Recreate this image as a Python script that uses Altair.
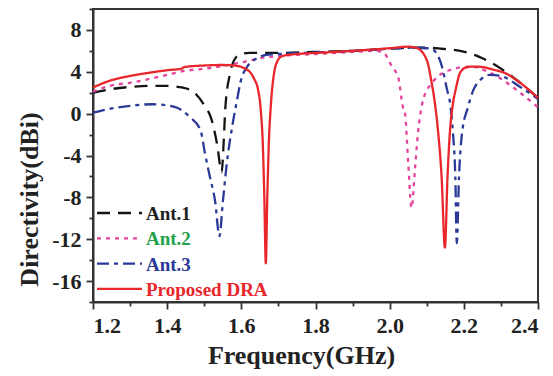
import altair as alt
import pandas as pd

# ---- data ----
names = ["Ant.1", "Ant.2", "Ant.3", "Proposed DRA"]
line_colors = ["#141414", "#e4449a", "#2b3a98", "#e8262b"]
label_colors = ["#1e1e1e", "#1fa24a", "#2b3a98", "#e8262b"]
dashes = [[13, 8], [4, 5], [12, 5, 4, 5], [1, 0]]

ant1_f = [1.20, 1.25, 1.30, 1.35, 1.40, 1.44, 1.47, 1.50, 1.52, 1.535, 1.547, 1.552, 1.557,
          1.57, 1.586, 1.60, 1.623, 1.70, 1.80, 1.90, 2.00, 2.05, 2.10, 2.14, 2.19, 2.24,
          2.30, 2.35, 2.40]
ant1_v = [2.0, 2.35, 2.55, 2.65, 2.65, 2.5, 2.1, 0.8, -0.6, -3.0, -5.6, -3.0, 0.6,
          3.9, 5.4, 5.7, 5.8, 5.8, 5.9, 6.0, 6.2, 6.3, 6.3, 6.2, 6.0, 5.45,
          4.3, 3.0, 1.5]

ant2_f = [1.20, 1.25, 1.30, 1.35, 1.40, 1.45, 1.50, 1.55, 1.58, 1.62, 1.65, 1.70, 1.80,
          1.90, 1.96, 1.985, 1.993, 2.006, 2.023, 2.036, 2.041, 2.050, 2.059, 2.068,
          2.076, 2.087, 2.09, 2.117, 2.163, 2.217, 2.271, 2.352, 2.40]
ant2_v = [2.1, 2.7, 2.95, 3.3, 3.7, 4.1, 4.3, 4.55, 4.75, 5.06, 5.3, 5.5, 5.7,
          5.9, 6.0, 5.8, 5.4, 4.5, 3.5, 0.6, 0.15, -4.7, -9.0, -5.4,
          -2.0, 0.8, 1.3, 3.05, 4.17, 4.5, 3.9, 2.0, 0.6]

ant3_f = [1.20, 1.25, 1.30, 1.36, 1.42, 1.46, 1.49, 1.502, 1.515, 1.529, 1.541, 1.55,
          1.56, 1.577, 1.59, 1.597, 1.616, 1.643, 1.664, 1.70, 1.80, 1.90, 2.00, 2.06,
          2.10, 2.117, 2.141, 2.155, 2.163, 2.171, 2.177, 2.181, 2.187, 2.195, 2.211,
          2.225, 2.244, 2.27, 2.30, 2.35, 2.40]
ant3_v = [0.1, 0.5, 0.75, 0.9, 0.65, -0.3, -1.6, -3.8, -6.0, -8.3, -11.7, -8.5,
          -5.0, -0.9, 1.6, 2.9, 4.5, 5.3, 5.6, 5.7, 5.85, 6.0, 6.2, 6.3,
          6.25, 6.1, 4.5, 2.25, 1.0, -2.0, -6.0, -12.4, -6.0, -1.9, 0.6,
          2.2, 3.2, 3.7, 3.6, 2.6, 1.4]

dra_f = [1.20, 1.25, 1.30, 1.35, 1.40, 1.44, 1.445, 1.50, 1.55, 1.59, 1.61, 1.625, 1.635,
         1.645, 1.652, 1.658, 1.662, 1.666, 1.670, 1.674, 1.680, 1.688, 1.697, 1.71,
         1.75, 1.80, 1.90, 2.00, 2.05, 2.07, 2.085, 2.095, 2.103, 2.112, 2.12, 2.13,
         2.14, 2.149, 2.156, 2.163, 2.17, 2.178, 2.19, 2.205, 2.225, 2.25, 2.28, 2.31,
         2.35, 2.40]
dra_v = [2.5, 3.2, 3.6, 3.9, 4.15, 4.3, 4.45, 4.6, 4.65, 4.55, 4.3, 3.9, 3.3,
         2.3, 0.5, -3.0, -8.0, -14.3, -8.0, -3.0, 1.0, 3.8, 5.0, 5.5,
         5.7, 5.8, 6.0, 6.25, 6.4, 6.3, 6.0, 5.5, 4.8, 3.2, 1.5, -1.5,
         -6.0, -12.8, -6.0, -1.5, 0.8, 2.3, 3.9, 4.4, 4.5, 4.45, 4.2, 3.9,
         3.0, 1.5]

x_ticks = [1.2, 1.3, 1.4, 1.5, 1.6, 1.7, 1.8, 1.9, 2.0, 2.1, 2.2, 2.3, 2.4]
y_ticks = [-18, -16, -14, -12, -10, -8, -6, -4, -2, 0, 2, 4, 6, 8, 10]

series_f = [ant1_f, ant2_f, ant3_f, dra_f]
series_v = [ant1_v, ant2_v, ant3_v, dra_v]

rows = []
for n, fs, vs in zip(names, series_f, series_v):
    for f, v in zip(fs, vs):
        rows.append({"series": n, "f": f, "v": v})
df = pd.DataFrame(rows)

leg = pd.DataFrame({"series": names, "row": list(range(4)), "lc": label_colors})

FONT = "Liberation Serif"
TXT = "#222222"

color = alt.Color("series:N", scale=alt.Scale(domain=names, range=line_colors), legend=None)
dash = alt.StrokeDash("series:N", scale=alt.Scale(domain=names, range=dashes), legend=None)

xaxis = alt.Axis(
    values=x_ticks,
    labelExpr="round(datum.value*10) % 2 == 0 ? format(datum.value, '.1f') : ''",
    tickSize={"condition": {"test": "round(datum.value*10) % 2 == 0", "value": 7}, "value": 4},
    title="Frequency(GHz)",
    labelPadding=6,
    titlePadding=6,
    titleX=208,
    grid=False,
)
yaxis = alt.Axis(
    values=y_ticks,
    labelExpr="datum.value % 4 == 0 ? toString(datum.value) : ''",
    tickSize={"condition": {"test": "datum.value % 4 == 0", "value": 7}, "value": 4},
    title="Directivity(dBi)",
    labelPadding=5,
    titlePadding=9,
    titleY=190,
    grid=False,
)

layers = []
for i, n in enumerate(names):
    layers.append(
        alt.Chart(df).transform_filter(alt.datum.series == n).mark_line(
            strokeWidth=2.3, interpolate="monotone"
        ).encode(
            x=alt.X("f:Q", scale=alt.Scale(domain=[1.2, 2.4], nice=False, zero=False), axis=xaxis),
            y=alt.Y("v:Q", scale=alt.Scale(domain=[-18, 10], nice=False, zero=False), axis=yaxis),
            color=color,
            strokeDash=dash,
        )
    )

leg_base = alt.Chart(leg).transform_calculate(py="204 + datum.row * 25.3")
leg_rules = leg_base.mark_rule(strokeWidth=2.3).encode(
    x=alt.value(4), x2=alt.value(49),
    y=alt.Y("py:Q", scale=None),
    color=color,
    strokeDash=dash,
)
leg_text = leg_base.mark_text(
    align="left", baseline="middle", font=FONT, fontWeight="bold", fontSize=19, dy=1
).encode(
    x=alt.value(53),
    y=alt.Y("py:Q", scale=None),
    text="series:N",
    fill=alt.Fill("lc:N", scale=None),
)

chart = alt.layer(*layers, leg_rules, leg_text).properties(
    width=445, height=293,
    padding={"left": 93, "top": 9, "right": 15, "bottom": 74},
    autosize=alt.AutoSizeParams(type="none"),
    background="white",
).configure_view(
    stroke="#333333", strokeWidth=2
).configure_axis(
    domainColor="#333333", domainWidth=2,
    tickColor="#333333", tickWidth=1.8,
    labelFont=FONT, labelFontWeight="bold", labelFontSize=22, labelColor=TXT,
    titleFont=FONT, titleFontWeight="bold", titleFontSize=26, titleColor=TXT,
)

chart.save("out.html", embed_options={"renderer": "svg", "actions": False})
